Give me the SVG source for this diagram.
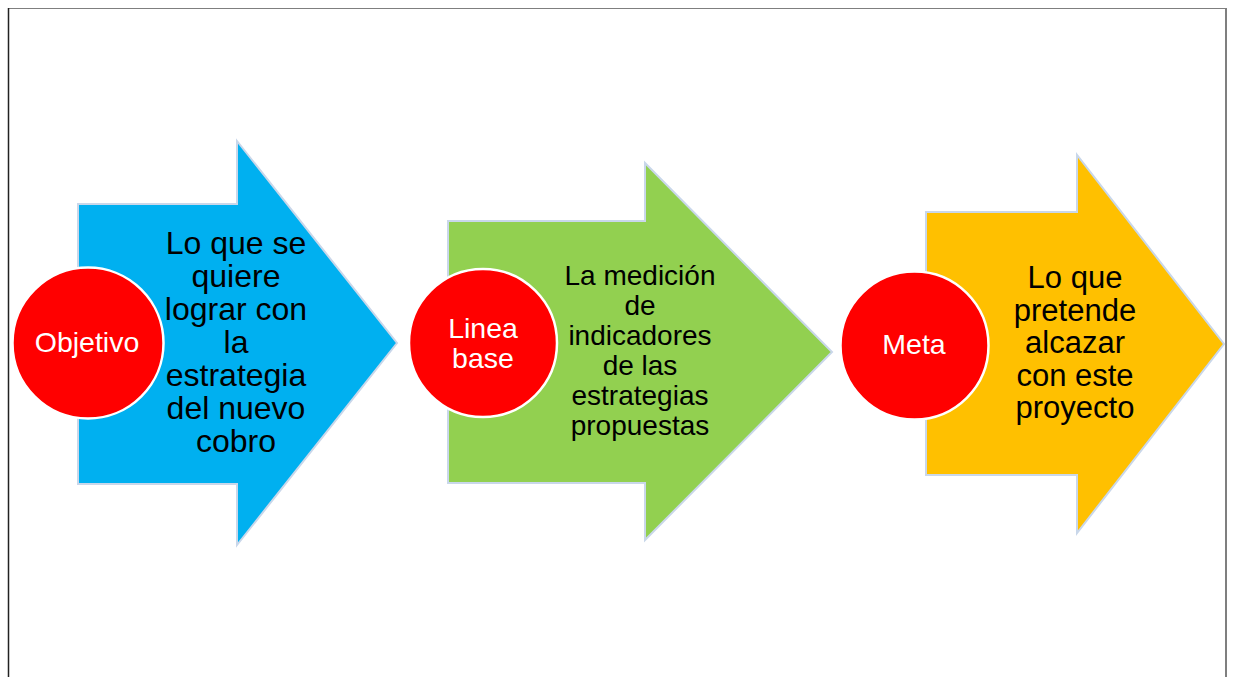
<svg xmlns="http://www.w3.org/2000/svg" width="1234" height="677" viewBox="0 0 1234 677">
<style>
.arrow{stroke:#c9d7ea;stroke-width:2;stroke-linejoin:miter}
.circ{fill:#ff0000;stroke:#ffffff;stroke-width:2.5}
.ct{font-family:"Liberation Sans",Arial,sans-serif;font-size:28.5px;fill:#ffffff;text-anchor:middle}
.bt{font-family:"Liberation Sans",Arial,sans-serif;fill:#000000;text-anchor:middle}
</style>
<rect width="1234" height="677" fill="#ffffff"/>
<g id="frame">
<line x1="8" y1="8.5" x2="1226" y2="8.5" stroke="#7f7f7f" stroke-width="1.2"/>
<line x1="8.5" y1="8" x2="8.5" y2="677" stroke="#222222" stroke-width="1.5"/>
<line x1="1226" y1="8" x2="1226" y2="677" stroke="#7f7f7f" stroke-width="2"/>
</g>
<g id="step1">
<path class="arrow" fill="#00b0f0" d="M78,204 H237 V141 L397,343 L237,545 V484 H78 Z"/>
<text class="bt" font-size="32"><tspan x="236" y="254">Lo que se</tspan><tspan x="236" y="287">quiere</tspan><tspan x="236" y="320">lograr con</tspan><tspan x="236" y="353">la</tspan><tspan x="236" y="386">estrategia</tspan><tspan x="236" y="419">del nuevo</tspan><tspan x="236" y="452">cobro</tspan></text>
<circle class="circ" cx="88" cy="343" r="75.5"/>
<text class="ct" x="87" y="352" font-size="29.5">Objetivo</text>
</g>
<g id="step2">
<path class="arrow" fill="#92d050" d="M448,221 H645 V163 L832,352 L645,540 V483 H448 Z"/>
<text class="bt" font-size="28"><tspan x="640" y="285">La medición</tspan><tspan x="640" y="315">de</tspan><tspan x="640" y="345">indicadores</tspan><tspan x="640" y="375">de las</tspan><tspan x="640" y="405">estrategias</tspan><tspan x="640" y="435">propuestas</tspan></text>
<circle class="circ" cx="483" cy="343" r="74"/>
<text class="ct"><tspan x="483" y="338">Linea</tspan><tspan x="483" y="368">base</tspan></text>
</g>
<g id="step3">
<path class="arrow" fill="#ffc000" d="M926,212 H1077 V155 L1224,344 L1077,533 V475 H926 Z"/>
<text class="bt" font-size="31"><tspan x="1075" y="288">Lo que</tspan><tspan x="1075" y="320.5">pretende</tspan><tspan x="1075" y="353">alcazar</tspan><tspan x="1075" y="385.5">con este</tspan><tspan x="1075" y="418">proyecto</tspan></text>
<circle class="circ" cx="914.5" cy="345.5" r="74"/>
<text class="ct" x="914" y="354">Meta</text>
</g>
</svg>
